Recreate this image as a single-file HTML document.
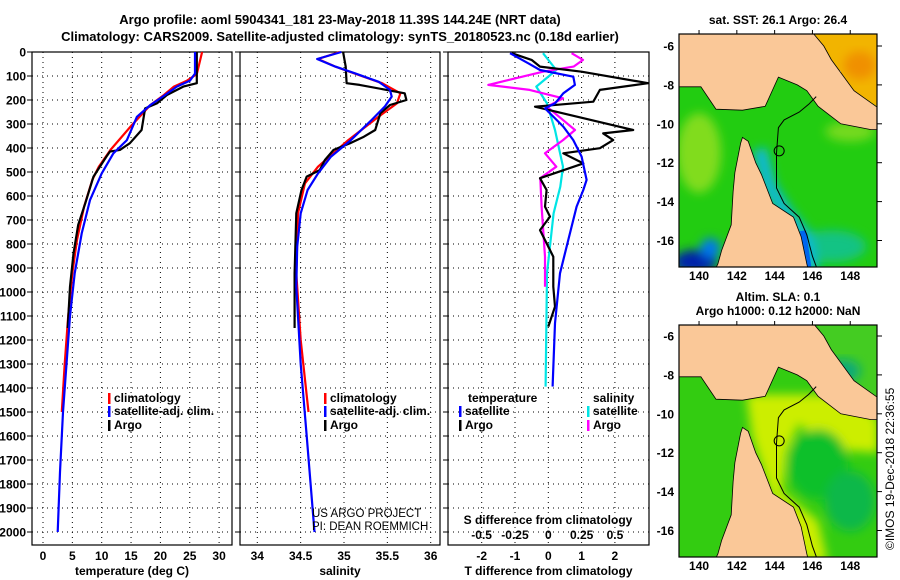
<!DOCTYPE html>
<html><head><meta charset="utf-8"><style>
html,body{margin:0;padding:0;background:#fff}
svg{display:block;font-family:"Liberation Sans",sans-serif}
.t{font-weight:bold;font-size:12px;fill:#000}
</style></head><body>
<svg id="fig" width="900" height="580" viewBox="0 0 900 580">
<defs>
<filter id="blur" x="-20%" y="-20%" width="140%" height="140%"><feGaussianBlur stdDeviation="5"/></filter>
<clipPath id="clipTop"><rect x="679" y="34" width="198" height="233"/></clipPath>
<clipPath id="clipBot"><rect x="679" y="325" width="198" height="232"/></clipPath>
</defs>
<text class="t" x="340" y="24" text-anchor="middle" style="font-size:13px">Argo profile: aoml 5904341_181 23-May-2018 11.39S 144.24E (NRT data)</text>
<text class="t" x="340" y="41" text-anchor="middle" style="font-size:13px">Climatology: CARS2009. Satellite-adjusted climatology: synTS_20180523.nc (0.18d earlier)</text>
<g id="layer"></g>
</svg>
<script>
// ---- profile data (depth in m) ----
const climTdepth=[0,92,120,144,179,221,311,408,478,533,644,783,922,1100,1300,1500];
const climT=[27.1,26.2,24.5,22.3,20.6,18.3,14.9,11.5,9.5,8.4,7.0,5.8,5.0,4.3,3.7,3.2];
const satTdepth=[0,90,120,144,179,221,270,367,422,506,617,756,922,1100,1300,1500,1750,2000];
const satT=[25.9,25.9,25.0,22.8,20.8,18.3,16.0,14.3,12.0,10.0,8.0,6.6,5.4,4.6,4.0,3.4,2.9,2.5];
const argoTdepth=[0,130,144,179,214,235,325,380,408,415,436,519,630,720,839,978,1150];
const argoT=[26.2,26.2,23.9,21.1,19.4,17.4,16.8,14.8,13.1,11.4,10.8,8.6,7.2,6.0,5.2,4.6,4.2];
const climSdepth=[0,29,61,96,130,172,214,269,367,478,547,672,922,1200,1500];
const climS=[34.95,34.70,34.90,35.17,35.44,35.65,35.61,35.40,35.05,34.70,34.55,34.47,34.45,34.50,34.59];
const satSdepth=[0,29,61,89,124,158,186,228,283,367,436,506,575,672,811,978,1300,1600,2000];
const satS=[34.97,34.69,34.90,35.13,35.40,35.53,35.55,35.47,35.32,35.08,34.85,34.70,34.58,34.50,34.46,34.45,34.50,34.57,34.66];
const argoSdepth=[0,61,130,137,158,172,200,221,255,325,353,380,408,450,492,519,575,672,922,1150];
const argoS=[34.99,35.02,35.03,35.18,35.49,35.70,35.72,35.53,35.42,35.36,35.23,35.07,34.88,34.78,34.72,34.57,34.51,34.45,34.43,34.43];
const satTdiffDepth=[5,47,75,103,137,172,214,235,269,311,367,436,533,575,644,783,922,1130,1394];
const satTdiff=[-1.15,-0.6,-0.25,0.75,0.8,0.45,0.2,-0.1,0.15,0.45,0.75,1.0,1.15,1.05,0.85,0.6,0.35,0.2,0.13];
const argoTdiffDepth=[5,33,61,82,130,158,207,228,325,339,367,401,422,464,526,575,644,686,742,797,853,978,1061,1144];
const argoTdiff=[-1.1,-0.5,-0.25,1.0,3.0,1.55,1.35,-0.4,2.55,1.65,1.95,1.55,0.45,1.05,-0.25,-0.05,-0.1,0.05,-0.25,-0.05,0.15,0.15,0.2,0.0];
const argoSdiffDepth=[5,33,61,82,137,158,193,228,325,367,422,478,526,644,853,978];
const argoSdiff=[0.175,0.26,0.19,-0.04,-0.45,-0.14,0.11,-0.01,0.2,0.11,-0.025,0.06,-0.06,-0.05,-0.025,-0.025];
const satSdiffDepth=[5,75,144,214,325,478,561,672,922,1394];
const satSdiff=[-0.04,0.06,-0.09,-0.01,0.05,0.11,0.09,0.04,-0.01,-0.02];
const depthTicks=[0,100,200,300,400,500,600,700,800,900,1000,1100,1200,1300,1400,1500,1600,1700,1800,1900,2000];
const tempTicks=[0,5,10,15,20,25,30];
const salTicks=[34,34.5,35,35.5,36];
const tdiffTicks=[-2,-1,0,1,2];
const sdiffTicks=[-0.5,-0.25,0,0.25,0.5];
const sdiffTickLabels=["-0.5","-0.25","0","0.25","0.5"];
const latTicks=[-6,-8,-10,-12,-14,-16];
const lonTicks=[140,142,144,146,148];

const NS="http://www.w3.org/2000/svg";
const L=document.getElementById('layer');
function mk(tag,attrs,parent){const e=document.createElementNS(NS,tag);for(const k in attrs)e.setAttribute(k,attrs[k]);(parent||L).appendChild(e);return e;}
// axes functions
const yD=d=>52+0.24*d;
const xT=t=>43+5.87*t;
const xS=s=>257.3+86.7*(s-34);
const xTd=t=>548.3+33.3*t;
const xSd=s=>548.3+133.3*s;
const PT=52,PB=545;

function panel(x0,x1,name,vticks,xf,labels,title,showY){
  const g=mk('g',{});
  
  
  mk('rect',{x:x0,y:PT,width:x1-x0,height:PB-PT,fill:'#fff',stroke:'none'},g);
  depthTicks.forEach(d=>{ if(d>0){const l=mk('line',{x1:x0,x2:x1,y1:yD(d),y2:yD(d),stroke:'#000','stroke-width':1,'stroke-dasharray':'1,4'},g);
    
    }
    mk('line',{x1:x0-5,x2:x0,y1:yD(d),y2:yD(d),stroke:'#000'},g);
    if(showY){const t=mk('text',{x:x0-6,y:yD(d)+4.5,'text-anchor':'end',class:'t'},g);t.textContent=d;
      
      }
  });
  vticks.forEach((v,i)=>{const l=mk('line',{x1:xf(v),x2:xf(v),y1:PT,y2:PB,stroke:'#000','stroke-width':1,'stroke-dasharray':'1,4'},g);
    
    
    if(labels){const t=mk('text',{x:xf(v),y:560,'text-anchor':'middle',class:'t'},g);t.textContent=labels[i];
      
      }
  });
  mk('rect',{x:x0,y:PT,width:x1-x0,height:PB-PT,fill:'none',stroke:'#000','stroke-width':1.2},g);
  const tt=mk('text',{x:(x0+x1)/2,y:575,'text-anchor':'middle',class:'t'},g);tt.textContent=title;
  
  
  return g;
}
function line(g,ds,vs,xf,color,name){
  const pts=ds.map((d,i)=>xf(vs[i]).toFixed(1)+','+yD(d).toFixed(1)).join(' ');
  const p=mk('polyline',{points:pts,fill:'none',stroke:color,'stroke-width':2.2,'stroke-linejoin':'round'},g);
  
  
}
function legendItem(g,x,y,color,label,name){
  mk('rect',{x:x,y:y-9,width:2.5,height:11,fill:color},g);
  const t=mk('text',{x:x+6,y:y,class:'t'},g);t.textContent=label;
  
  
}
// Panel 1
const g1=panel(32,232,'temperature-panel',tempTicks,xT,tempTicks.map(String),'temperature (deg C)',true);
line(g1,climTdepth,climT,xT,'#ff0000','climatology-temperature-line');
line(g1,argoTdepth,argoT,xT,'#000000','argo-temperature-line');
line(g1,satTdepth,satT,xT,'#0000ff','satellite-temperature-line');
legendItem(g1,108,402,'#f00','climatology','legend-climatology');
legendItem(g1,108,415,'#00f','satellite-adj. clim.','legend-satellite');
legendItem(g1,108,429,'#000','Argo','legend-argo');
// Panel 2
const g2=panel(240,440,'salinity-panel',salTicks,xS,salTicks.map(String),'salinity',false);
line(g2,climSdepth,climS,xS,'#ff0000','climatology-salinity-line');
line(g2,argoSdepth,argoS,xS,'#000000','argo-salinity-line');
line(g2,satSdepth,satS,xS,'#0000ff','satellite-salinity-line');
legendItem(g2,324,402,'#f00','climatology','legend-climatology');
legendItem(g2,324,415,'#00f','satellite-adj. clim.','legend-satellite');
legendItem(g2,324,429,'#000','Argo','legend-argo');
const c1=mk('text',{x:312,y:517,style:'font-size:11.5px'},g2);c1.textContent='US ARGO PROJECT';


const c2=mk('text',{x:312,y:530,style:'font-size:11.5px'},g2);c2.textContent='PI: DEAN ROEMMICH';


// Panel 3
const g3=panel(448,649,'difference-panel',tdiffTicks,xTd,tdiffTicks.map(String),'T difference from climatology',false);
line(g3,satSdiffDepth,satSdiff,xSd,'#00e5e5','satellite-salinity-diff-line');
line(g3,argoSdiffDepth,argoSdiff,xSd,'#ff00ff','argo-salinity-diff-line');
line(g3,argoTdiffDepth,argoTdiff,xTd,'#000000','argo-temperature-diff-line');
line(g3,satTdiffDepth,satTdiff,xTd,'#0000ff','satellite-temperature-diff-line');
const lt=mk('text',{x:468,y:402,class:'t'},g3);lt.textContent='temperature';


const ls=mk('text',{x:593,y:402,class:'t'},g3);ls.textContent='salinity';


legendItem(g3,459,415,'#00f','satellite','legend-temp-satellite');
legendItem(g3,459,429,'#000','Argo','legend-temp-argo');
legendItem(g3,587,415,'#00e5e5','satellite','legend-sal-satellite');
legendItem(g3,587,429,'#f0f','Argo','legend-sal-argo');
const sl=mk('text',{x:548,y:524,'text-anchor':'middle',class:'t'},g3);sl.textContent='S difference from climatology';


sdiffTicks.forEach((v,i)=>{const t=mk('text',{x:xSd(v),y:539,'text-anchor':'middle',class:'t'},g3);t.textContent=sdiffTickLabels[i];
  
  });

// ---- maps ----
const lonX=lon=>679+(lon-138.94)*18.9;
const png=[[138.9,-5.3],[146.0,-5.3],[146.6,-6.0],[147.0,-6.7],[148.2,-8.3],[149.5,-9.2],[149.5,-10.3],[149.1,-10.3],[147.5,-10.0],[146.3,-9.1],[145.7,-8.3],[145.2,-8.0],[144.2,-7.6],[143.5,-9.1],[142.3,-9.3],[140.9,-9.25],[140.1,-8.1],[138.9,-8.1]];
const cape=[[142.3,-10.7],[142.6,-10.9],[143.0,-12.0],[143.3,-12.6],[143.9,-14.1],[145.0,-14.8],[145.4,-15.8],[145.7,-17.2],[145.8,-17.6],[140.8,-17.6],[141.0,-17.2],[141.2,-16.5],[141.7,-15.2],[141.8,-13.5],[141.9,-12.5],[142.2,-11.0]];
const contour=[[146.2,-8.6],[145.8,-9.0],[145.3,-9.4],[144.5,-9.8],[144.2,-10.2],[144.1,-11.5],[144.1,-13.3],[144.5,-14.1],[145.3,-14.8],[145.7,-15.7],[146.0,-16.8],[146.3,-17.6]];
function drawMap(name,yTop,lat6y,clip,fills,title1,title2){
  const latY=lat=>lat6y+(-6-lat)*19.45;
  const P=arr=>arr.map(p=>lonX(p[0]).toFixed(1)+','+latY(p[1]).toFixed(1)).join(' ');
  const g=mk('g',{});
  
  
  const inner=mk('g',{'clip-path':'url(#'+clip+')'},g);
  fills(inner,P,latY);
  const l1=mk('polygon',{points:P(png),fill:'#fac898',stroke:'#000','stroke-width':0.8},inner);
  
  
  const l2=mk('polygon',{points:P(cape),fill:'#fac898',stroke:'#000','stroke-width':0.8},inner);
  
  
  mk('polyline',{points:P(contour),fill:'none',stroke:'#000','stroke-width':1},inner);
  const c=mk('circle',{cx:lonX(144.24),cy:latY(-11.39),r:5,fill:'none',stroke:'#000','stroke-width':1},inner);
  
  
  mk('rect',{x:679,y:yTop,width:198,height:(clip=='clipTop'?233:232),fill:'none',stroke:'#000','stroke-width':1.2},g);
  latTicks.forEach(v=>{const t=mk('text',{x:674,y:latY(v)+4.5,'text-anchor':'end',class:'t'},g);t.textContent=v;
    
    
    mk('line',{x1:877,x2:882,y1:latY(v),y2:latY(v),stroke:'#000'},g);});
  const yb=yTop+(clip=='clipTop'?233:232);
  lonTicks.forEach(v=>{const t=mk('text',{x:lonX(v),y:yb+13,'text-anchor':'middle',class:'t'},g);t.textContent=v;
    
    
    mk('line',{x1:lonX(v),x2:lonX(v),y1:yTop-4,y2:yTop,stroke:'#000'},g);});
  title1.forEach((s,i)=>{const t=mk('text',{x:778,y:s[1],'text-anchor':'middle',class:'t'},g);t.textContent=s[0];
    
    });
}
drawMap('sst-map',34,46,'clipTop',(g,P,latY)=>{
  mk('rect',{x:679,y:34,width:198,height:233,fill:'#22cc11'},g);
  const b=mk('g',{filter:'url(#blur)'},g);
  mk('ellipse',{cx:lonX(140),cy:latY(-11.5),rx:22,ry:40,fill:'#99e022',opacity:0.8},b);
  mk('ellipse',{cx:lonX(148),cy:latY(-10.4),rx:25,ry:10,fill:'#99e022',opacity:0.7},b);
  mk('ellipse',{cx:lonX(147),cy:latY(-16.3),rx:35,ry:16,fill:'#11c0a0',opacity:0.8},b);
  mk('polyline',{points:P([[143.2,-11.3],[143.7,-13.2],[144.6,-14.6],[145.6,-15.8],[146,-17.6]]),fill:'none',stroke:'#11b8d8','stroke-width':14},b);
  mk('ellipse',{cx:lonX(139.8),cy:latY(-17.1),rx:22,ry:12,fill:'#0022aa'},b);
  mk('ellipse',{cx:lonX(140.6),cy:latY(-16.4),rx:10,ry:10,fill:'#0077ee'},b);
  mk('polyline',{points:P([[145.5,-15.5],[145.8,-17.5]]),fill:'none',stroke:'#0066ee','stroke-width':6},g);
  mk('polygon',{points:P([[145.5,-5],[150,-5],[150,-9.5],[148.2,-8.3],[147,-6.7]]),fill:'#f2b400'},g);
  mk('ellipse',{cx:lonX(148.5),cy:latY(-7),rx:16,ry:14,fill:'#f09000',filter:'url(#blur)'},g);
  mk('polygon',{points:P([[147.0,-7.0],[147.5,-7.3],[147.6,-8.0]]),fill:'#fff'},g);
},[['sat. SST: 26.1 Argo: 26.4',24]]);
drawMap('sla-map',325,336,'clipBot',(g,P,latY)=>{
  mk('rect',{x:679,y:325,width:198,height:232,fill:'#33cc11'},g);
  const b=mk('g',{filter:'url(#blur)'},g);
  mk('polygon',{points:P([[142.5,-9],[148,-9],[149.5,-10.3],[149.5,-12],[146.5,-11.8],[145.3,-10.5],[144.6,-12],[144.4,-14],[146.3,-15.5],[146.8,-17.6],[145.5,-17.6],[143.8,-14.2],[142.8,-11.2]]),fill:'#ccee00'},b);
  mk('ellipse',{cx:lonX(146.3),cy:latY(-12.6),rx:30,ry:35,fill:'#11c02a'},b);
  mk('ellipse',{cx:lonX(148),cy:latY(-14.5),rx:25,ry:30,fill:'#11b84a'},b);
  mk('polygon',{points:P([[146,-5],[150,-5],[150,-9.5],[148.2,-8.3],[147,-6.7]]),fill:'#44cc22'},g);
  mk('ellipse',{cx:lonX(147.6),cy:latY(-7.8),rx:18,ry:12,fill:'#11aa77',filter:'url(#blur)'},g);
},[['Altim. SLA: 0.1',301],['Argo h1000: 0.12 h2000: NaN',315]]);
const cr=mk('text',{x:0,y:0,transform:'translate(894,550) rotate(-90)',style:'font-size:12px'});
cr.textContent='©IMOS 19-Dec-2018 22:36:55';


</script>
</body></html>
